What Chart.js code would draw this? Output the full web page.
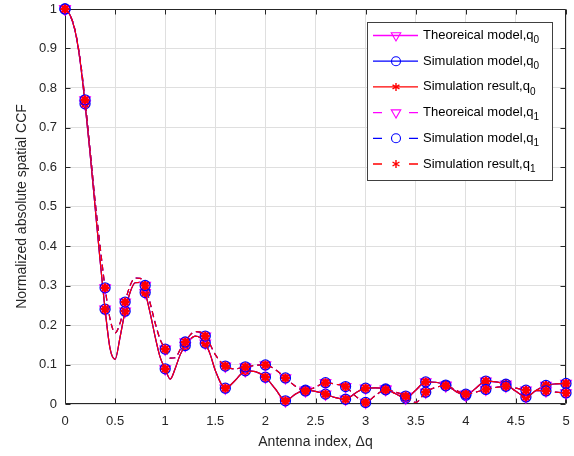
<!DOCTYPE html>
<html>
<head>
<meta charset="utf-8">
<title>Normalized absolute spatial CCF</title>
<script src="https://cdn.jsdelivr.net/npm/chart.js@4.4.1/dist/chart.umd.min.js"></script>
<style>
  html, body { margin: 0; padding: 0; background: #fff; }
  #wrap { width: 574px; height: 456px; }
</style>
</head>
<body>
<div id="wrap"><canvas id="ccfChart" width="574" height="456"></canvas></div>
<script>
// antenna index samples (finer where the main lobes are)
const deltaQ = [
  0, 0.05, 0.1, 0.15, 0.2, 0.25, 0.3, 0.35, 0.4, 0.45, 0.5, 0.55, 0.6, 0.65, 0.7, 0.75,
  0.8, 0.85, 0.9, 0.95, 1.0, 1.05, 1.1, 1.15, 1.2, 1.25, 1.3, 1.35, 1.4, 1.45, 1.5,
  1.6, 1.7, 1.8, 1.9, 2.0, 2.1, 2.2, 2.3, 2.4, 2.5, 2.6, 2.7, 2.8, 2.9, 3.0,
  3.1, 3.2, 3.3, 3.4, 3.5, 3.6, 3.7, 3.8, 3.9, 4.0, 4.1, 4.2, 4.3, 4.4, 4.5,
  4.6, 4.7, 4.8, 4.9, 5.0
];

// normalized |CCF| for q0
const ccfQ0 = [
  1.000, 0.985, 0.945, 0.870, 0.760, 0.635, 0.500, 0.365, 0.240, 0.140, 0.113, 0.170, 0.235, 0.283, 0.307, 0.308,
  0.282, 0.230, 0.170, 0.118, 0.089, 0.063, 0.090, 0.125, 0.148, 0.164, 0.172, 0.168, 0.154, 0.125, 0.085,
  0.040, 0.060, 0.084, 0.082, 0.068, 0.038, 0.008, 0.025, 0.035, 0.032, 0.025, 0.016, 0.012, 0.028, 0.040,
  0.041, 0.038, 0.026, 0.015, 0.035, 0.056, 0.055, 0.048, 0.032, 0.022, 0.040, 0.058, 0.056, 0.050, 0.032,
  0.018, 0.034, 0.047, 0.051, 0.052
];

// normalized |CCF| for q1
const ccfQ1 = [
  1.000, 0.985, 0.947, 0.875, 0.770, 0.645, 0.515, 0.400, 0.294, 0.215, 0.180, 0.205, 0.258, 0.300, 0.319, 0.318,
  0.300, 0.255, 0.205, 0.163, 0.139, 0.116, 0.117, 0.138, 0.157, 0.175, 0.183, 0.182, 0.172, 0.150, 0.125,
  0.096, 0.089, 0.094, 0.098, 0.099, 0.087, 0.066, 0.045, 0.033, 0.043, 0.054, 0.050, 0.044, 0.020, 0.004,
  0.022, 0.036, 0.030, 0.020, 0.004, 0.030, 0.042, 0.046, 0.035, 0.025, 0.030, 0.037, 0.042, 0.045, 0.040,
  0.035, 0.034, 0.033, 0.030, 0.028
];

const seriesNames = ["Theoreical model", "Simulation model", "Simulation result"];
const seriesColors = ["#ff00ff", "#0000ff", "#ff0000"];
const seriesMarkers = ["triangle", "circle", "star"];

const curves = [
  { sub: "0", values: ccfQ0, dash: [] },
  { sub: "1", values: ccfQ1, dash: [6, 4] }
];

const FONT = '"Liberation Sans", Arial, Helvetica, sans-serif';
const AXIS_COLOR = "#262626";

// markers sit on every 0.2 step of the antenna index
function onMarkerStep(x) {
  return Math.abs(x * 5 - Math.round(x * 5)) < 1e-6;
}

const datasets = [];
curves.forEach(function (c) {
  seriesNames.forEach(function (name, i) {
    const marker = seriesMarkers[i];
    datasets.push({
      label: name + ",q",
      sub: c.sub,
      data: deltaQ.map(function (x, k) { return { x: x, y: c.values[k] }; }),
      borderColor: seriesColors[i],
      backgroundColor: "transparent",
      borderWidth: 1.2,
      borderDash: c.dash,
      cubicInterpolationMode: "monotone",
      pointStyle: marker,
      pointRotation: marker === "triangle" ? 180 : 0,
      pointRadius: function (ctx) {
        if (!onMarkerStep(deltaQ[ctx.dataIndex])) return 0;
        return marker === "triangle" ? 6 : marker === "circle" ? 5 : 4.5;
      },
      pointBorderColor: seriesColors[i],
      pointBackgroundColor: "transparent",
      pointBorderWidth: marker === "star" ? 2.2 : 1.3,
      clip: false
    });
  });
});
// later series are drawn on top
datasets.forEach(function (d, i) { d.order = datasets.length - i; });

function fmt(v) { return String(Number(v.toFixed(2))); }

// drop the label overhang padding so the plot box lands where the layout says
function noOverhang(s) {
  s.paddingTop = 0;
  s.paddingBottom = 0;
  s.paddingLeft = 0;
  s.paddingRight = 0;
}

// axes box with inward ticks on all four sides
const boxPlugin = {
  id: "axesBox",
  beforeDatasetsDraw(chart) {
    const ctx = chart.ctx;
    const a = chart.chartArea;
    const xs = chart.scales.x, ys = chart.scales.y;
    const L = Math.round(a.left) + 0.5, R = Math.round(a.right) - 0.5;
    const T = Math.round(a.top) + 0.5, B = Math.round(a.bottom) - 0.5;
    ctx.save();
    ctx.setLineDash([]);
    ctx.strokeStyle = AXIS_COLOR;
    ctx.lineWidth = 1;
    ctx.beginPath();
    ctx.rect(L, T, R - L, B - T);
    xs.ticks.forEach(function (t) {
      const px = Math.round(xs.getPixelForValue(t.value)) + 0.5;
      ctx.moveTo(px, B); ctx.lineTo(px, B - 5);
      ctx.moveTo(px, T); ctx.lineTo(px, T + 5);
    });
    ys.ticks.forEach(function (t) {
      const py = Math.round(ys.getPixelForValue(t.value)) + 0.5;
      ctx.moveTo(L, py); ctx.lineTo(L + 5, py);
      ctx.moveTo(R, py); ctx.lineTo(R - 5, py);
    });
    ctx.stroke();
    ctx.restore();
  }
};

function drawMarker(ctx, style, x, y, color) {
  ctx.save();
  ctx.setLineDash([]);
  ctx.strokeStyle = color;
  ctx.beginPath();
  if (style === "triangle") {
    const r = 5.5;
    ctx.lineWidth = 1.1;
    ctx.moveTo(x, y + r);
    ctx.lineTo(x - r * 0.866, y - r * 0.5);
    ctx.lineTo(x + r * 0.866, y - r * 0.5);
    ctx.closePath();
  } else if (style === "circle") {
    ctx.lineWidth = 1.1;
    ctx.arc(x, y, 4.5, 0, Math.PI * 2);
  } else {
    const r = 4;
    ctx.lineWidth = 1.4;
    for (let k = 0; k < 3; k++) {
      const ang = Math.PI / 2 + k * Math.PI / 3;
      ctx.moveTo(x + Math.cos(ang) * r, y + Math.sin(ang) * r);
      ctx.lineTo(x - Math.cos(ang) * r, y - Math.sin(ang) * r);
    }
  }
  ctx.stroke();
  ctx.restore();
}

// boxed legend in the upper right corner
const legendPlugin = {
  id: "boxLegend",
  afterDraw(chart) {
    const ctx = chart.ctx;
    const bx = 367, by = 22, bw = 185, bh = 158;
    ctx.save();
    ctx.setLineDash([]);
    ctx.fillStyle = "#ffffff";
    ctx.fillRect(bx, by, bw, bh);
    ctx.strokeStyle = "#404040";
    ctx.lineWidth = 1;
    ctx.strokeRect(bx + 0.5, by + 0.5, bw, bh);

    chart.data.datasets.forEach(function (d, i) {
      const y = 35.5 + i * 25.7;
      const x0 = 373, x1 = 418, xm = 396;
      ctx.strokeStyle = d.borderColor;
      ctx.lineWidth = 1.3;
      ctx.beginPath();
      if (d.borderDash.length) {
        ctx.moveTo(x0, y); ctx.lineTo(x0 + 9, y);
        ctx.moveTo(x1 - 9, y); ctx.lineTo(x1, y);
      } else {
        ctx.moveTo(x0, y); ctx.lineTo(x1, y);
      }
      ctx.stroke();
      drawMarker(ctx, d.pointStyle, xm, y, d.borderColor);

      ctx.fillStyle = "#000000";
      ctx.textBaseline = "middle";
      ctx.textAlign = "left";
      ctx.font = "13px " + FONT;
      ctx.fillText(d.label, 423, y);
      const w = ctx.measureText(d.label).width;
      ctx.font = "10px " + FONT;
      ctx.fillText(d.sub, 423 + w, y + 5);
    });
    ctx.restore();
  }
};

new Chart(document.getElementById("ccfChart").getContext("2d"), {
  type: "line",
  data: { datasets: datasets },
  plugins: [boxPlugin, legendPlugin],
  options: {
    responsive: false,
    animation: false,
    events: [],
    layout: { padding: { top: 9, right: 8, left: 0, bottom: 0 } },
    plugins: { legend: { display: false }, tooltip: { enabled: false } },
    scales: {
      x: {
        type: "linear",
        min: 0,
        max: 5,
        afterFit: function (s) { s.height = 52; noOverhang(s); },
        ticks: {
          stepSize: 0.5,
          padding: 10,
          color: AXIS_COLOR,
          font: { family: FONT, size: 13 },
          callback: fmt
        },
        grid: { color: "#dfdfdf", drawTicks: false },
        border: { display: false },
        title: {
          display: true,
          text: "Antenna index, Δq",
          color: AXIS_COLOR,
          font: { family: FONT, size: 14 },
          padding: { top: 0, bottom: 5 }
        }
      },
      y: {
        type: "linear",
        min: 0,
        max: 1,
        afterFit: function (s) { s.width = 65; noOverhang(s); },
        ticks: {
          stepSize: 0.1,
          padding: 8,
          color: AXIS_COLOR,
          font: { family: FONT, size: 13 },
          callback: fmt
        },
        grid: { color: "#dfdfdf", drawTicks: false },
        border: { display: false },
        title: {
          display: true,
          text: "Normalized absolute spatial CCF",
          color: AXIS_COLOR,
          font: { family: FONT, size: 14 },
          padding: { top: 14, bottom: 0 }
        }
      }
    }
  }
});
</script>
</body>
</html>
